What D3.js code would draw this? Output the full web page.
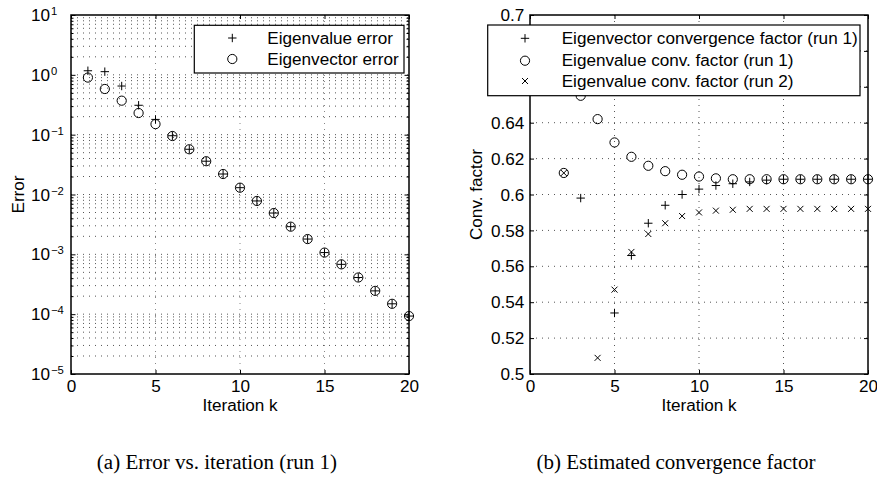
<!DOCTYPE html>
<html>
<head>
<meta charset="utf-8">
<script src="https://d3js.org/d3.v7.min.js"></script>
<style>
  body { margin: 0; background: #fff; }
  svg { display: block; }
  text { font-family: "Liberation Sans", Arial, Helvetica, sans-serif; fill: #000; }
</style>
</head>
<body>
<div id="chart"></div>
<script>
// ---- data ----
var iterK = [1, 2, 3, 4, 5, 6, 7, 8, 9, 10, 11, 12, 13, 14, 15, 16, 17, 18, 19, 20];
var eigvalErr = [1.17, 1.13, 0.65, 0.31, 0.18, 0.096, 0.057, 0.036, 0.022, 0.013,
                 0.0078, 0.0049, 0.0029, 0.0018, 0.00107, 0.00068, 0.00041, 0.000245, 0.000149, 0.000093];
var eigvecErr = [0.90, 0.58, 0.37, 0.23, 0.15, 0.095, 0.057, 0.036, 0.022, 0.013,
                 0.0078, 0.0049, 0.0029, 0.0018, 0.00107, 0.00068, 0.00041, 0.000245, 0.000149, 0.000093];

var cfK = [2, 3, 4, 5, 6, 7, 8, 9, 10, 11, 12, 13, 14, 15, 16, 17, 18, 19, 20];
var vecFactorRun1 = [null, 0.598, null, 0.534, 0.566, 0.584, 0.594, 0.600, 0.603, 0.605,
                     0.606, 0.607, 0.608, 0.6085, 0.6085, 0.6085, 0.6085, 0.6085, 0.6085];
var valFactorRun1 = [0.612, 0.655, 0.642, 0.629, 0.621, 0.616, 0.613, 0.611, 0.610, 0.609,
                     0.6085, 0.6085, 0.6085, 0.6085, 0.6085, 0.6085, 0.6085, 0.6085, 0.6085];
var valFactorRun2 = [0.612, null, 0.509, 0.547, 0.568, 0.578, 0.584, 0.588, 0.590, 0.591,
                     0.5915, 0.592, 0.592, 0.592, 0.592, 0.592, 0.592, 0.592, 0.592];

var kTicks = [0, 5, 10, 15, 20];
var errDecades = [-5, -4, -3, -2, -1, 0, 1];
var minorMult = [2, 3, 4, 5, 6, 7, 8, 9];
var cfTicks = [0.5, 0.52, 0.54, 0.56, 0.58, 0.6, 0.62, 0.64, 0.66, 0.68, 0.7];
var cfTickLabels = ["0.5", "0.52", "0.54", "0.56", "0.58", "0.6", "0.62", "0.64", "0.66", "0.68", "0.7"];

var legendA = ["Eigenvalue error", "Eigenvector error"];
var legendB = ["Eigenvector convergence factor (run 1)", "Eigenvalue conv. factor (run 1)", "Eigenvalue conv. factor (run 2)"];
var captions = ["(a) Error vs. iteration (run 1)", "(b) Estimated convergence factor"];

// ---- layout ----
var width = 877, height = 481;
var fs = 16, sx = 1.07;   // text in the picture is slightly wide
var gridColor = "#555";

var svg = d3.select("#chart").append("svg")
    .attr("width", width)
    .attr("height", height);

svg.append("rect").attr("width", width).attr("height", height).attr("fill", "#fff");

// stretch text horizontally like the original
function widen(sel, f) {
    sel.each(function () {
        var w = this.getComputedTextLength();
        d3.select(this).attr("textLength", w * (f || sx)).attr("lengthAdjust", "spacingAndGlyphs");
    });
}

var symPlus = "M-4.2,0H4.2M0,-4.2V4.2";
var symCross = "M-3,-3L3,3M-3,3L3,-3";

function marker(g, kind, x, y) {
    if (kind === "o") {
        g.append("circle").attr("cx", x).attr("cy", y).attr("r", 4.6)
            .attr("fill", "none").attr("stroke", "#000").attr("stroke-width", 1);
    } else {
        g.append("path").attr("d", kind === "+" ? symPlus : symCross)
            .attr("transform", "translate(" + x + "," + y + ")")
            .attr("fill", "none").attr("stroke", "#000").attr("stroke-width", 1);
    }
}

function series(g, xs, ys, xScale, yScale, kind) {
    xs.forEach(function (k, i) {
        if (ys[i] == null) return;
        marker(g, kind, xScale(k), yScale(ys[i]));
    });
}

function legend(g, x0, y0, x1, y1, entries, kinds, mx, tx, rows) {
    g.append("rect").attr("x", x0).attr("y", y0).attr("width", x1 - x0).attr("height", y1 - y0)
        .attr("fill", "#fff").attr("stroke", "#000").attr("stroke-width", 1.2);
    entries.forEach(function (t, i) {
        marker(g, kinds[i], mx, rows[i]);
        g.append("text").attr("x", tx).attr("y", rows[i] + 5.5)
            .attr("font-size", fs).text(t).call(widen);
    });
}

// ===================== (a) error vs iteration =====================
var gA = svg.append("g");
var xA = d3.scaleLinear().domain([0, 20]).range([71, 409]);
var yA = d3.scaleLog().domain([1e-5, 10]).range([374, 15]);

var majorA = errDecades.map(function (e) { return Math.pow(10, e); });
var minorA = [];
errDecades.slice(0, -1).forEach(function (e) {
    minorMult.forEach(function (m) { minorA.push(m * Math.pow(10, e)); });
});

// grid
gA.append("g").selectAll("line")
    .data(majorA.slice(1, -1).concat(minorA))
    .enter().append("line")
    .attr("x1", xA(0)).attr("x2", xA(20))
    .attr("y1", function (d) { return yA(d); }).attr("y2", function (d) { return yA(d); })
    .attr("stroke", gridColor).attr("stroke-width", 1).attr("stroke-dasharray", "1,5");

gA.append("g").selectAll("line")
    .data(kTicks.slice(1, -1))
    .enter().append("line")
    .attr("x1", function (d) { return xA(d); }).attr("x2", function (d) { return xA(d); })
    .attr("y1", yA(10)).attr("y2", yA(1e-5))
    .attr("stroke", "#888").attr("stroke-width", 1).attr("stroke-dasharray", "1,5");

// axes, ticks inside on all four sides
gA.append("g").attr("transform", "translate(0,374)")
    .call(d3.axisBottom(xA).tickValues(kTicks).tickSize(-4).tickSizeOuter(0).tickFormat(d3.format("d")))
    .call(function (a) {
        a.select(".domain").remove();
        a.selectAll("text").attr("y", 18).attr("dy", 0).attr("font-size", fs).attr("font-family", null).call(widen);
    });
gA.append("g").attr("transform", "translate(0,15)")
    .call(d3.axisTop(xA).tickValues(kTicks).tickSize(-4).tickSizeOuter(0).tickFormat(""))
    .call(function (a) { a.select(".domain").remove(); });
gA.append("g").attr("transform", "translate(71,0)")
    .call(d3.axisLeft(yA).tickValues(minorA).tickSize(-2.5).tickSizeOuter(0).tickFormat(""))
    .call(function (a) { a.select(".domain").remove(); });
gA.append("g").attr("transform", "translate(71,0)")
    .call(d3.axisLeft(yA).tickValues(majorA).tickSize(-4.5).tickSizeOuter(0).tickFormat(""))
    .call(function (a) { a.select(".domain").remove(); });
gA.append("g").attr("transform", "translate(409,0)")
    .call(d3.axisRight(yA).tickValues(minorA).tickSize(-2.5).tickSizeOuter(0).tickFormat(""))
    .call(function (a) { a.select(".domain").remove(); });
gA.append("g").attr("transform", "translate(409,0)")
    .call(d3.axisRight(yA).tickValues(majorA).tickSize(-4.5).tickSizeOuter(0).tickFormat(""))
    .call(function (a) { a.select(".domain").remove(); });

// 10^n labels
errDecades.forEach(function (e) {
    var y = yA(Math.pow(10, e));
    gA.append("text").attr("x", 50).attr("y", y + 6).attr("text-anchor", "end")
        .attr("font-size", fs).text("10").call(widen);
    gA.append("text").attr("x", 51).attr("y", y).attr("font-size", 10.5)
        .text(e < 0 ? "\u2212" + (-e) : String(e)).call(widen);
});

// markers
var mA = gA.append("g");
series(mA, iterK, eigvalErr, xA, yA, "+");
series(mA, iterK, eigvecErr, xA, yA, "o");

gA.append("rect").attr("x", 71).attr("y", 15).attr("width", 338).attr("height", 359)
    .attr("fill", "none").attr("stroke", "#000").attr("stroke-width", 1.5);

gA.append("text").attr("x", 240).attr("y", 411).attr("text-anchor", "middle")
    .attr("font-size", fs).text("Iteration k").call(widen);
gA.append("text").attr("transform", "translate(24,194.5) rotate(-90)").attr("text-anchor", "middle")
    .attr("font-size", fs).text("Error").call(widen);

legend(gA, 194.3, 25.3, 404, 73, legendA, ["+", "o"], 232.3, 267.3, [38, 59]);

// ===================== (b) convergence factor =====================
var gB = svg.append("g");
var xB = d3.scaleLinear().domain([0, 20]).range([530, 868]);
var yB = d3.scaleLinear().domain([0.5, 0.7]).range([374, 15]);

gB.append("g").selectAll("line")
    .data(cfTicks.slice(1, -1))
    .enter().append("line")
    .attr("x1", xB(0)).attr("x2", xB(20))
    .attr("y1", function (d) { return yB(d); }).attr("y2", function (d) { return yB(d); })
    .attr("stroke", gridColor).attr("stroke-width", 1).attr("stroke-dasharray", "1,5");
gB.append("g").selectAll("line")
    .data(kTicks.slice(1, -1))
    .enter().append("line")
    .attr("x1", function (d) { return xB(d); }).attr("x2", function (d) { return xB(d); })
    .attr("y1", yB(0.7)).attr("y2", yB(0.5))
    .attr("stroke", gridColor).attr("stroke-width", 1).attr("stroke-dasharray", "1,5");

gB.append("g").attr("transform", "translate(0,374)")
    .call(d3.axisBottom(xB).tickValues(kTicks).tickSize(-4).tickSizeOuter(0).tickFormat(d3.format("d")))
    .call(function (a) {
        a.select(".domain").remove();
        a.selectAll("text").attr("y", 18).attr("dy", 0).attr("font-size", fs).attr("font-family", null).call(widen);
    });
gB.append("g").attr("transform", "translate(0,15)")
    .call(d3.axisTop(xB).tickValues(kTicks).tickSize(-4).tickSizeOuter(0).tickFormat(""))
    .call(function (a) { a.select(".domain").remove(); });
gB.append("g").attr("transform", "translate(530,0)")
    .call(d3.axisLeft(yB).tickValues(cfTicks).tickSize(-4).tickSizeOuter(0)
        .tickFormat(function (d, i) { return cfTickLabels[i]; }))
    .call(function (a) {
        a.select(".domain").remove();
        a.selectAll("text").attr("x", -5.7).attr("dy", "0.35em").attr("font-size", fs).attr("font-family", null).call(widen);
    });
gB.append("g").attr("transform", "translate(868,0)")
    .call(d3.axisRight(yB).tickValues(cfTicks).tickSize(-4).tickSizeOuter(0).tickFormat(""))
    .call(function (a) { a.select(".domain").remove(); });

var mB = gB.append("g");
series(mB, cfK, vecFactorRun1, xB, yB, "+");
series(mB, cfK, valFactorRun1, xB, yB, "o");
series(mB, cfK, valFactorRun2, xB, yB, "x");

gB.append("rect").attr("x", 530).attr("y", 15).attr("width", 338).attr("height", 359)
    .attr("fill", "none").attr("stroke", "#000").attr("stroke-width", 1.5);

gB.append("text").attr("x", 699).attr("y", 411).attr("text-anchor", "middle")
    .attr("font-size", fs).text("Iteration k").call(widen);
gB.append("text").attr("transform", "translate(481.7,194.5) rotate(-90)").attr("text-anchor", "middle")
    .attr("font-size", fs).text("Conv. factor").call(widen);

legend(gB, 487.7, 25, 860, 95.7, legendB, ["+", "o", "x"], 525, 561.7, [38.3, 60.7, 81]);

// ---- captions (serif) ----
var capX = [217, 676];
captions.forEach(function (c, i) {
    svg.append("text").attr("x", capX[i]).attr("y", 469).attr("text-anchor", "middle")
        .style("font-family", "'Liberation Serif', 'Times New Roman', serif")
        .attr("font-size", 20).text(c).call(widen, 1.05);
});
</script>
</body>
</html>
